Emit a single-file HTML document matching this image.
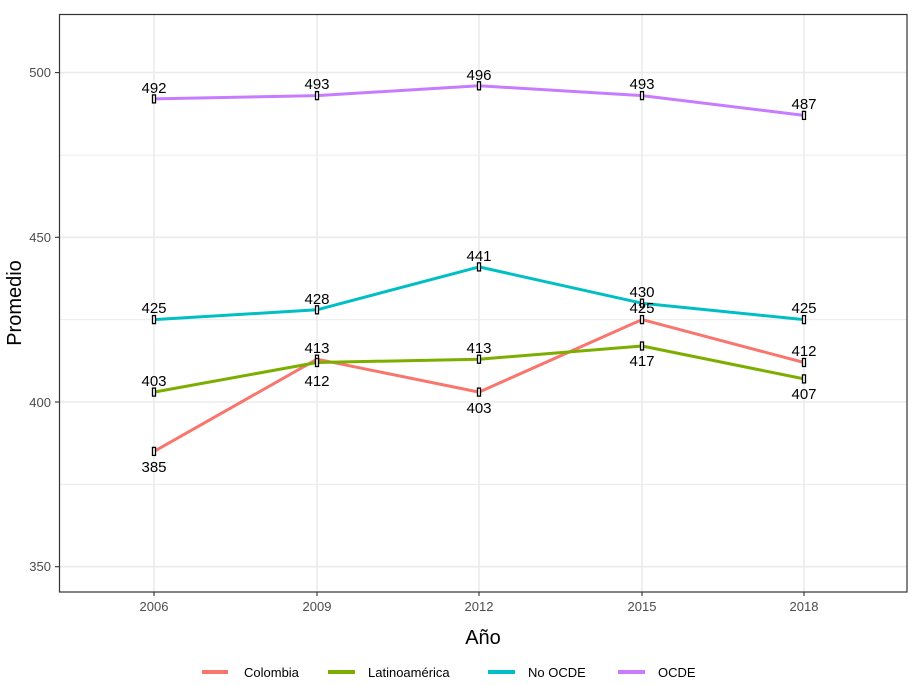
<!DOCTYPE html><html><head><meta charset="utf-8"><style>body{margin:0;background:#fff}svg{display:block;font-family:"Liberation Sans",sans-serif}</style></head><body>
<svg width="917" height="685" viewBox="0 0 917 685">
<rect width="917" height="685" fill="#fff"/>
<g stroke="#ebebeb" stroke-width="1">
<line x1="59" x2="907" y1="484.4" y2="484.4"/><line x1="59" x2="907" y1="319.6" y2="319.6"/><line x1="59" x2="907" y1="155.1" y2="155.1"/>
</g>
<g stroke="#ebebeb" stroke-width="1.6">
<line x1="59" x2="907" y1="72.6" y2="72.6"/><line x1="59" x2="907" y1="237.3" y2="237.3"/><line x1="59" x2="907" y1="402" y2="402"/><line x1="59" x2="907" y1="566.7" y2="566.7"/>
<line x1="154" x2="154" y1="14" y2="592"/><line x1="317" x2="317" y1="14" y2="592"/><line x1="479" x2="479" y1="14" y2="592"/><line x1="642" x2="642" y1="14" y2="592"/><line x1="804" x2="804" y1="14" y2="592"/>
</g>
<g fill="none" stroke-width="3" stroke-linejoin="round">
<polyline stroke="#f8766d" points="154,451.4 317,359.2 479,392.1 642,319.6 804,362.5"/>
<polyline stroke="#7cae00" points="154,392.1 317,362.5 479,359.2 642,346 804,378.9"/>
<polyline stroke="#00bfc4" points="154,319.6 317,309.8 479,266.9 642,303.2 804,319.6"/>
<polyline stroke="#c77cff" points="154,98.9 317,95.6 479,85.8 642,95.6 804,115.4"/>
</g>
<g fill="#fff" stroke="#000" stroke-width="1.3">
<rect x="152.5" y="447.4" width="3" height="8"/><rect x="315.5" y="355.2" width="3" height="8"/><rect x="477.5" y="388.1" width="3" height="8"/><rect x="640.5" y="315.6" width="3" height="8"/><rect x="802.5" y="358.5" width="3" height="8"/>
<rect x="152.5" y="388.1" width="3" height="8"/><rect x="315.5" y="358.5" width="3" height="8"/><rect x="477.5" y="355.2" width="3" height="8"/><rect x="640.5" y="342" width="3" height="8"/><rect x="802.5" y="374.9" width="3" height="8"/>
<rect x="152.5" y="315.6" width="3" height="8"/><rect x="315.5" y="305.8" width="3" height="8"/><rect x="477.5" y="262.9" width="3" height="8"/><rect x="640.5" y="299.2" width="3" height="8"/><rect x="802.5" y="315.6" width="3" height="8"/>
<rect x="152.5" y="94.9" width="3" height="8"/><rect x="315.5" y="91.6" width="3" height="8"/><rect x="477.5" y="81.8" width="3" height="8"/><rect x="640.5" y="91.6" width="3" height="8"/><rect x="802.5" y="111.4" width="3" height="8"/>
</g>
<g font-size="15" text-anchor="middle" fill="#000">
<text x="154" y="472">385</text><text x="317" y="386">412</text><text x="479" y="413">403</text><text x="642" y="313">425</text><text x="804" y="356">412</text>
<text x="154" y="386">403</text><text x="317" y="353">413</text><text x="479" y="353">413</text><text x="642" y="366">417</text><text x="804" y="399">407</text>
<text x="154" y="313">425</text><text x="317" y="304">428</text><text x="479" y="261">441</text><text x="642" y="297">430</text><text x="804" y="313">425</text>
<text x="154" y="93">492</text><text x="317" y="89">493</text><text x="479" y="80">496</text><text x="642" y="89">493</text><text x="804" y="109">487</text>
</g>
<rect x="59.5" y="14.5" width="847.5" height="577.5" fill="none" stroke="#333" stroke-width="1.2"/>
<g stroke="#333" stroke-width="1.1">
<line x1="55" x2="59" y1="72.6" y2="72.6"/><line x1="55" x2="59" y1="237.3" y2="237.3"/><line x1="55" x2="59" y1="402" y2="402"/><line x1="55" x2="59" y1="566.7" y2="566.7"/>
<line x1="154" x2="154" y1="592" y2="596"/><line x1="317" x2="317" y1="592" y2="596"/><line x1="479" x2="479" y1="592" y2="596"/><line x1="642" x2="642" y1="592" y2="596"/><line x1="804" x2="804" y1="592" y2="596"/>
</g>
<g font-size="13" fill="#4d4d4d" text-anchor="end">
<text x="51" y="77">500</text><text x="51" y="242">450</text><text x="51" y="407">400</text><text x="51" y="571">350</text>
</g>
<g font-size="13" fill="#4d4d4d" text-anchor="middle">
<text x="154" y="611">2006</text><text x="317" y="611">2009</text><text x="479" y="611">2012</text><text x="642" y="611">2015</text><text x="804" y="611">2018</text>
</g>
<text x="483" y="644" font-size="20" text-anchor="middle">Año</text>
<text transform="translate(21,303) rotate(-90)" font-size="20" text-anchor="middle">Promedio</text>
<g stroke-width="4">
<line x1="202" x2="228" y1="672" y2="672" stroke="#f8766d"/><line x1="328" x2="355" y1="672" y2="672" stroke="#7cae00"/><line x1="488" x2="515" y1="672" y2="672" stroke="#00bfc4"/><line x1="618" x2="645" y1="672" y2="672" stroke="#c77cff"/>
</g>
<g font-size="13">
<text x="244" y="677">Colombia</text><text x="368" y="677">Latinoamérica</text><text x="528" y="677">No OCDE</text><text x="658" y="677">OCDE</text>
</g>
</svg></body></html>
